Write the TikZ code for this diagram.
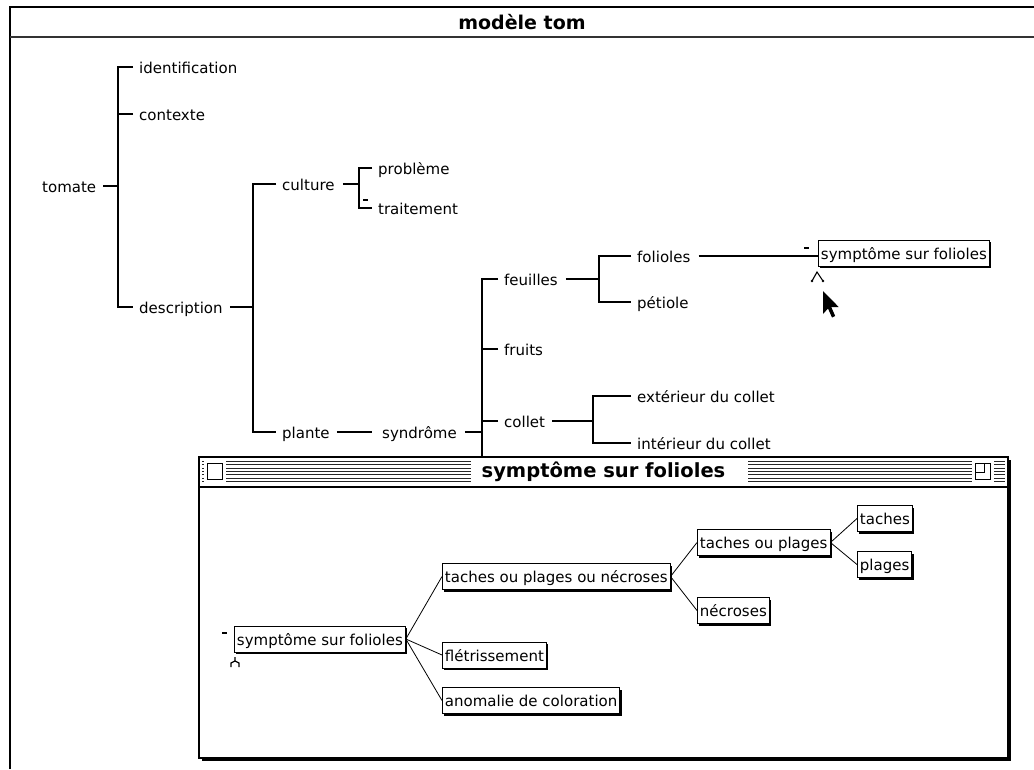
\documentclass[tikz,border=0pt]{standalone}
\usepackage{fontspec}
\setmainfont{DejaVu Sans}
\usetikzlibrary{shadows}
\begin{document}
\begin{tikzpicture}[x=1pt,y=-1pt,
  txt/.style={font=\fontsize{15}{15}\selectfont},
  lbl/.style={txt, anchor=west, inner sep=0pt, text height=13pt, text depth=1pt},
  tree/.style={line width=1.3pt},
  conn/.style={line width=0.8pt},
  framebox/.style={txt, draw, fill=white, line width=0.9pt, anchor=west,
    inner xsep=2.5pt, inner ysep=0pt, minimum height=26pt, text height=13pt, text depth=1pt,
    drop shadow={shadow xshift=2pt, shadow yshift=-2pt, fill=black, opacity=1}},
  stripe/.style={line width=1pt, black!85},
]
\useasboundingbox (0,0) rectangle (1034,769);
\fill[white] (0,0) rectangle (1034,769);

% outer window frame and title
\draw[line width=1.6pt] (10,769) -- (10,7) -- (1034,7);
\draw[line width=1.6pt, black!80] (10,37) -- (1034,37);
\node[font=\bfseries\fontsize{19}{19}\selectfont, inner sep=0pt] (title) at (522,22) {modèle tom};

% outline labels
\node[lbl] (tomate)  at (42,186)  {tomate};
\node[lbl] (ident)   at (139,67)  {identification};
\node[lbl] (ctx)     at (139,114) {contexte};
\node[lbl] (desc)    at (139,307) {description};
\node[lbl] (culture) at (282,184) {culture};
\node[lbl] (plante)  at (282,432) {plante};
\node[lbl] (prob)    at (378,168) {problème};
\node[lbl] (trait)   at (378,208) {traitement};
\node[lbl] (synd)    at (382,432) {syndrôme};
\node[lbl] (feuil)   at (504,279) {feuilles};
\node[lbl] (fruits)  at (504,349) {fruits};
\node[lbl] (collet)  at (504,421) {collet};
\node[lbl] (foliol)  at (637,256) {folioles};
\node[lbl] (petiole) at (637,302) {pétiole};
\node[lbl] (ext)     at (637,396) {extérieur du collet};
\node[lbl] (int)     at (637,443) {intérieur du collet};
\node[framebox] (symtop) at (818,253) {symptôme sur folioles};

% spines of the outline
\coordinate (sA) at (118,0);
\coordinate (sB) at (253,0);
\coordinate (sC) at (359,0);
\coordinate (sD) at (482,0);
\coordinate (sE) at (599,0);
\coordinate (sF) at (593,0);
\coordinate (sDend) at (482,480);

\draw[tree] ([xshift=7pt]tomate.east) -- (tomate.east -| sA);
\draw[tree] ([xshift=-6pt]ident.west) -- (ident.west -| sA) -- (desc.west -| sA) -- ([xshift=-6pt]desc.west);
\draw[tree] ([xshift=-6pt]ctx.west) -- (ctx.west -| sA);

\draw[tree] ([xshift=7pt]desc.east) -- (desc.east -| sB);
\draw[tree] ([xshift=-6pt]culture.west) -- (culture.west -| sB) -- (plante.west -| sB) -- ([xshift=-6pt]plante.west);

\draw[tree] ([xshift=8pt]culture.east) -- (culture.east -| sC);
\draw[tree] ([xshift=-6pt]prob.west) -- (prob.west -| sC) -- (trait.west -| sC) -- ([xshift=-6pt]trait.west);
\draw[line width=1.1pt] ([xshift=-15pt,yshift=8pt]trait.west) -- ([xshift=-10pt,yshift=8pt]trait.west);

\draw[tree] ([xshift=7pt]plante.east) -- ([xshift=-10pt]synd.west);
\draw[tree] ([xshift=8pt]synd.east) -- (synd.east -| sD);
\draw[tree] ([xshift=-6pt]feuil.west) -- (feuil.west -| sD) -- (sDend);
\draw[tree] ([xshift=-6pt]fruits.west) -- (fruits.west -| sD);
\draw[tree] ([xshift=-6pt]collet.west) -- (collet.west -| sD);

\draw[tree] ([xshift=8pt]feuil.east) -- (feuil.east -| sE);
\draw[tree] ([xshift=-6pt]foliol.west) -- (foliol.west -| sE) -- (petiole.west -| sE) -- ([xshift=-6pt]petiole.west);

\draw[tree] ([xshift=7pt]collet.east) -- (collet.east -| sF);
\draw[tree] ([xshift=-6pt]ext.west) -- (ext.west -| sF) -- (int.west -| sF) -- ([xshift=-6pt]int.west);

\draw[tree] ([xshift=8pt]foliol.east) -- (foliol.east -| symtop.west);
% markers beside the linked box
\draw[line width=1.1pt] ([xshift=-14pt,yshift=5pt]symtop.west) -- ([xshift=-9pt,yshift=5pt]symtop.west);
\draw[line width=1.1pt] ([xshift=-6pt,yshift=-28pt]symtop.west) -- ([xshift=-1pt,yshift=-19pt]symtop.west) -- ([xshift=5pt,yshift=-28pt]symtop.west);
\fill ([xshift=-6pt,yshift=-28pt]symtop.west) circle (1.3pt);
\fill ([xshift=5pt,yshift=-28pt]symtop.west) circle (1.3pt);

% mouse pointer
\coordinate (tip) at (823,291);
\fill[black] (tip) -- ++(0,23) -- ++(5,-5.5) -- ++(4,9) -- ++(3.2,-1.5) -- ++(-4,-9) -- ++(7.5,0) -- cycle;

% detail window
\fill[black] (202,460) rectangle (1011,761);
\draw[fill=white, line width=1.5pt] (199,457) rectangle (1008,758);
\draw[line width=1.3pt] (199,487) -- (1008,487);
\foreach \k in {0,...,6} {
  \draw[stripe] (202,461.5+\k*3.3) -- (1005,461.5+\k*3.3);
}
\fill[white] (471,458.5) rectangle (748,485.5);
\fill[white] (204,460) rectangle (226,484);
\fill[white] (972,460) rectangle (994,484);
\draw[line width=1pt] (207,463) rectangle (222,479);
\draw[line width=1pt] (975,463) rectangle (990,479);
\draw[line width=1pt] (975,472) -- (984,472) -- (984,463);
\node[font=\bfseries\fontsize{19.5}{20}\selectfont, inner sep=0pt] (wtitle) at (603.5,472) {symptôme sur folioles};

% decomposition boxes
\node[framebox] (root)   at (234,639)   {symptôme sur folioles};
\node[framebox] (tpn)    at (442,576.5) {taches ou plages ou nécroses};
\node[framebox] (flet)   at (442,655)   {flétrissement};
\node[framebox] (anom)   at (442,700.5) {anomalie de coloration};
\node[framebox] (tp)     at (697,542.5) {taches ou plages};
\node[framebox] (necr)   at (697,610.5) {nécroses};
\node[framebox] (taches) at (857,518.5) {taches};
\node[framebox] (plages) at (857,564.5) {plages};

\draw[conn] (root.east) -- (tpn.west);
\draw[conn] (root.east) -- (flet.west);
\draw[conn] (root.east) -- (anom.west);
\draw[conn] (tpn.east) -- (tp.west);
\draw[conn] (tpn.east) -- (necr.west);
\draw[conn] (tp.east) -- (taches.west);
\draw[conn] (tp.east) -- (plages.west);

% markers beside the root box
\draw[line width=1.1pt] ([xshift=-12pt,yshift=6pt]root.west) -- ([xshift=-7pt,yshift=6pt]root.west);
\draw[line width=1.3pt] ([xshift=1pt,yshift=-18pt]root.west) -- ([xshift=1pt,yshift=-22pt]root.west)
  -- ([xshift=-3pt,yshift=-24pt]root.west) -- ([xshift=-3pt,yshift=-28pt]root.west);
\draw[line width=1.3pt] ([xshift=1pt,yshift=-22pt]root.west) -- ([xshift=5pt,yshift=-24pt]root.west) -- ([xshift=5pt,yshift=-28pt]root.west);
\end{tikzpicture}
\end{document}
